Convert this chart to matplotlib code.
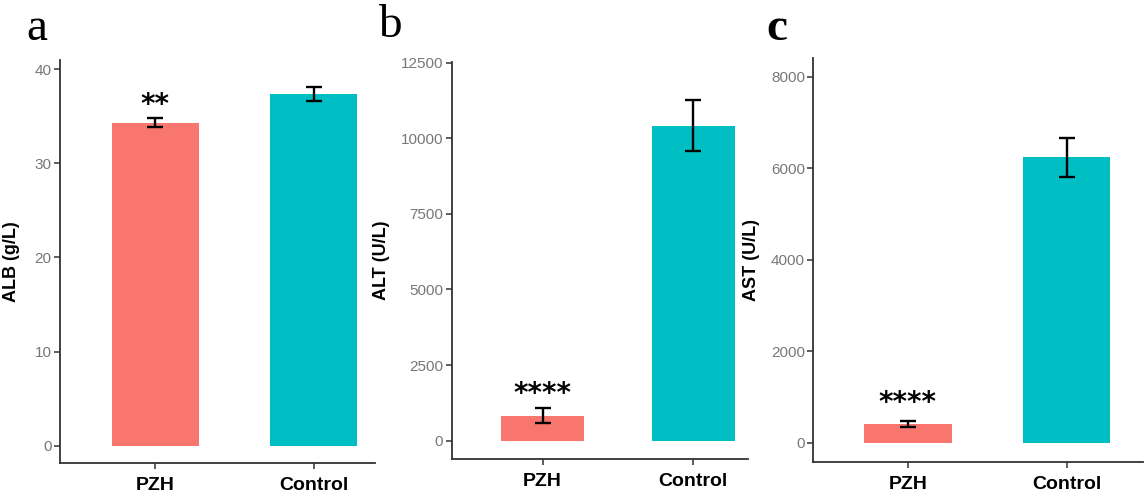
import matplotlib

matplotlib.use("Agg")
import matplotlib.pyplot as plt
import numpy as np

categories = ["PZH", "Control"]
bar_colors = ["#F8766D", "#00BFC4"]

alb_mean = [34.3, 37.4]
alb_err = [0.5, 0.75]
alt_mean = [830, 10420]
alt_err = [240, 850]
ast_mean = [410, 6240]
ast_err = [60, 430]

panel_letters = ["a", "b", "c"]
ylabels = ["ALB (g/L)", "ALT (U/L)", "AST (U/L)"]
stars = ["**", "****", "****"]
yticks = [
    [0, 10, 20, 30, 40],
    [0, 2500, 5000, 7500, 10000, 12500],
    [0, 2000, 4000, 6000, 8000],
]

SANS = ["Liberation Sans", "DejaVu Sans"]
AXIS_COLOR = "#333333"
TICK_TEXT = "#777777"


def draw_panel(ax, means, errs, ylabel, star, ticks, ylim, xlim, label_x, star_off):
    x = np.arange(1, len(categories) + 1)
    ax.bar(x, means, width=0.55, color=bar_colors)
    ax.errorbar(
        x, means, yerr=errs, fmt="none", ecolor="black",
        elinewidth=1.7, capsize=5.5, capthick=1.7,
    )
    # significance mark over the first bar
    ax.annotate(
        star, xy=(x[0], means[0] + errs[0]), xytext=(0, star_off),
        textcoords="offset points", ha="center", va="center",
        fontsize=20, fontweight="bold", family=["DejaVu Sans"],
    )
    ax.set_xticks(x)
    ax.set_xticklabels(categories, fontsize=14, fontweight="bold", family=SANS)
    ax.set_yticks(ticks)
    ax.set_yticklabels([str(t) for t in ticks], fontsize=11, color=TICK_TEXT, family=SANS)
    ax.set_ylim(*ylim)
    ax.set_xlim(*xlim)
    ax.set_ylabel(ylabel, fontsize=13, fontweight="bold", family=SANS)
    ax.yaxis.set_label_coords(label_x, 0.5)
    for side in ["top", "right"]:
        ax.spines[side].set_visible(False)
    for side in ["left", "bottom"]:
        ax.spines[side].set_color(AXIS_COLOR)
        ax.spines[side].set_linewidth(1.3)
    ax.tick_params(axis="both", direction="out", length=4, width=1.1, color=AXIS_COLOR)
    ax.tick_params(axis="x", pad=6)
    ax.tick_params(axis="y", pad=2)


fig = plt.figure(figsize=(11.46, 4.95), dpi=100)
ax_a = fig.add_axes([0.0524, 0.0646, 0.2749, 0.8141])
ax_b = fig.add_axes([0.3941, 0.0721, 0.2588, 0.8032])
ax_c = fig.add_axes([0.7097, 0.0673, 0.2874, 0.8150])

draw_panel(ax_a, alb_mean, alb_err, ylabels[0], stars[0], yticks[0],
           (-1.84, 40.96), (0.40, 2.386), -0.127, 9.5)
draw_panel(ax_b, alt_mean, alt_err, ylabels[1], stars[1], yticks[1],
           (-615, 12530), (0.396, 2.365), -0.208, 10)
draw_panel(ax_c, ast_mean, ast_err, ylabels[2], stars[2], yticks[2],
           (-415, 8402), (0.404, 2.48), -0.162, 13)

letter_pos = [(0.0233, 0.919), (0.330, 0.925), (0.669, 0.919)]
for letter, (lx, ly) in zip(panel_letters, letter_pos):
    fig.text(
        lx, ly, letter, fontsize=34, family=["Liberation Serif", "DejaVu Serif"],
        fontweight="bold" if letter == "c" else "normal", va="baseline",
    )

fig.savefig("out.png", dpi=100)
